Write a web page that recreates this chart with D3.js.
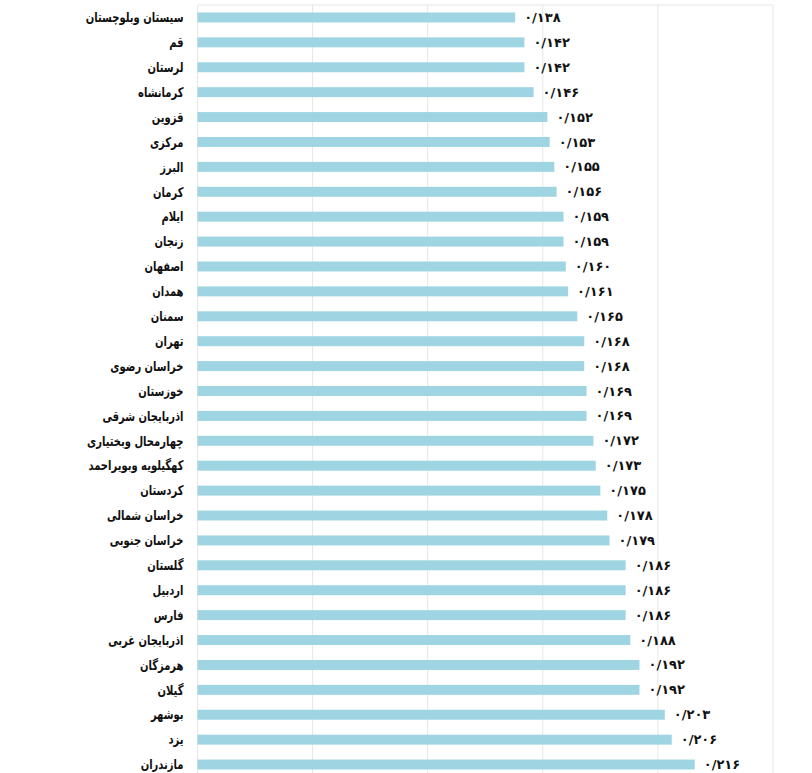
<!DOCTYPE html>
<html>
<head>
<meta charset="utf-8">
<script src="https://cdn.jsdelivr.net/npm/d3@7"></script>
<style>
  html, body { margin: 0; padding: 0; background: #fff; }
  svg { display: block; }
  .cat-label { font-family: "DejaVu Sans", sans-serif; font-weight: bold; font-size: 13.5px; fill: #111; }
  .val-label { font-family: "DejaVu Sans", sans-serif; font-weight: bold; font-size: 13px; fill: #111; }
</style>
</head>
<body>
<div id="chart"></div>
<script>
// استان‌ها (از بالا به پایین)
const provinces = [
  'سیستان وبلوچستان', 'قم', 'لرستان', 'کرمانشاه', 'قزوین', 'مرکزی', 'البرز', 'کرمان',
  'ایلام', 'زنجان', 'اصفهان', 'همدان', 'سمنان', 'تهران', 'خراسان رضوی', 'خوزستان',
  'اذربایجان شرقی', 'چهارمحال وبختیاری', 'کهگیلویه وبویراحمد', 'کردستان', 'خراسان شمالی',
  'خراسان جنوبی', 'گلستان', 'اردبیل', 'فارس', 'اذربایجان غربی', 'هرمزگان', 'گیلان',
  'بوشهر', 'یزد', 'مازندران'
];

const values = [
  0.138, 0.142, 0.142, 0.146, 0.152, 0.153, 0.155, 0.156,
  0.159, 0.159, 0.160, 0.161, 0.165, 0.168, 0.168, 0.169,
  0.169, 0.172, 0.173, 0.175, 0.178,
  0.179, 0.186, 0.186, 0.186, 0.188, 0.192, 0.192,
  0.203, 0.206, 0.216
];

const gridTicks = [0, 0.05, 0.10, 0.15, 0.20, 0.25];

const W = 812, H = 773;
const plotLeft = 197.5, plotRight = 773, plotTop = 5, plotBottom = 777;

// اعداد فارسی با ممیز "/"
const faDigits = '۰۱۲۳۴۵۶۷۸۹';
function toFa(v) {
  return v.toFixed(3).replace('.', '/').replace(/[0-9]/g, d => faDigits[+d]);
}

const data = provinces.map((name, i) => ({ name, value: values[i] }));

const svg = d3.select('#chart').append('svg')
  .attr('width', W)
  .attr('height', H);

const x = d3.scaleLinear().domain([0, 0.25]).range([plotLeft, plotRight]);
const y = d3.scaleBand().domain(provinces).range([plotTop, plotBottom]).paddingInner(0.6).paddingOuter(0.3);

// خطوط راهنما
svg.append('g')
  .selectAll('line')
  .data(gridTicks)
  .join('line')
  .attr('x1', d => x(d)).attr('x2', d => x(d))
  .attr('y1', plotTop).attr('y2', H)
  .attr('stroke', '#e6e6e6')
  .attr('stroke-width', 1);

svg.append('line')
  .attr('x1', x(0)).attr('x2', x(0.25))
  .attr('y1', plotTop).attr('y2', plotTop)
  .attr('stroke', '#e6e6e6');

// میله‌ها
svg.append('g')
  .selectAll('rect')
  .data(data)
  .join('rect')
  .attr('x', x(0))
  .attr('y', d => y(d.name))
  .attr('width', d => x(d.value) - x(0))
  .attr('height', y.bandwidth())
  .attr('fill', '#9fd5e2');

// برچسب استان (کمی فشرده تا عرض مثل تصویر اصلی شود)
svg.append('g')
  .selectAll('text')
  .data(data)
  .join('text')
  .attr('class', 'cat-label')
  .attr('transform', d => `translate(${x(0) - 14},${y(d.name) + y.bandwidth() / 2}) scale(0.74,1)`)
  .attr('dy', '0.35em')
  .attr('direction', 'rtl')
  .attr('text-anchor', 'start')
  .text(d => d.name);

// برچسب مقدار
svg.append('g')
  .selectAll('text')
  .data(data)
  .join('text')
  .attr('class', 'val-label')
  .attr('x', d => x(d.value) + 9)
  .attr('y', d => y(d.name) + y.bandwidth() / 2)
  .attr('dy', '0.35em')
  .attr('direction', 'ltr')
  .attr('text-anchor', 'start')
  .text(d => toFa(d.value));
</script>
</body>
</html>
